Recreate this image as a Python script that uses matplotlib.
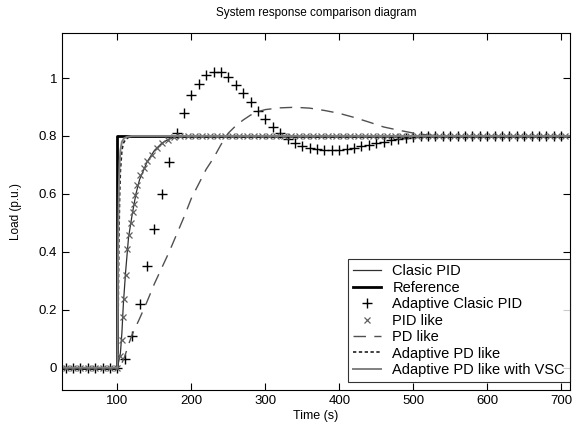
import numpy as np
import matplotlib
matplotlib.use("Agg")
import matplotlib.pyplot as plt

plt.rcParams['font.family'] = ['Liberation Sans', 'DejaVu Sans']

# reference step
ref_t = [25, 100, 100, 712]
ref_y = [0, 0, 0.8, 0.8]

# Adaptive Clasic PID (+ markers, every 10 s)
acp_t = list(range(30, 710, 10))
acp_y = ([0.0] * 8 +
         [0.03, 0.11, 0.22, 0.35, 0.48, 0.60, 0.71, 0.81, 0.88, 0.94, 0.98,
          1.01, 1.02, 1.02, 1.005, 0.975, 0.947, 0.918, 0.886, 0.858, 0.832,
          0.81, 0.79, 0.777, 0.767, 0.76, 0.755, 0.753, 0.752, 0.752, 0.754,
          0.758, 0.764, 0.77, 0.775, 0.78, 0.785, 0.79, 0.793, 0.796, 0.8])
acp_y += [0.8] * (len(acp_t) - len(acp_y))

# PID like (x markers)
pidl_t = [30, 40, 50, 60, 70, 80, 90, 100, 104, 106, 107, 108.5, 111, 113, 115,
          118.5, 120.7, 122, 124, 127, 131, 135.5, 140, 147, 153, 160, 169, 176,
          185, 195]
pidl_y = [0, 0, 0, 0, 0, 0, 0, 0, 0.04, 0.095, 0.175, 0.238, 0.32, 0.41, 0.458,
          0.50, 0.539, 0.566, 0.596, 0.632, 0.664, 0.69, 0.712, 0.735, 0.758,
          0.775, 0.787, 0.795, 0.799, 0.8]
pidl_t += list(range(205, 710, 10))
pidl_y += [0.8] * (len(pidl_t) - len(pidl_y))

# Clasic PID (thin solid)
cpid_t = [25, 100, 104, 106, 108, 111, 115, 120, 125, 130, 140, 150, 160, 170,
          180, 200, 712]
cpid_y = [0, 0, 0.05, 0.12, 0.22, 0.33, 0.45, 0.53, 0.60, 0.65, 0.71, 0.75,
          0.775, 0.79, 0.797, 0.8, 0.8]

# PD like (dashed)
pd_t = [25, 100, 105, 110, 115, 120, 130, 140, 150, 160, 170, 180, 190, 200,
        210, 220, 230, 240, 250, 260, 270, 280, 290, 300, 320, 340, 360, 380,
        400, 420, 440, 460, 480, 500, 520, 540, 712]
pd_y = [0, 0, 0.01, 0.04, 0.08, 0.115, 0.17, 0.228, 0.29, 0.345, 0.40, 0.46,
        0.52, 0.585, 0.635, 0.685, 0.724, 0.77, 0.81, 0.835, 0.855, 0.872,
        0.884, 0.891, 0.897, 0.899, 0.896, 0.888, 0.878, 0.864, 0.848, 0.831,
        0.82, 0.81, 0.803, 0.8, 0.8]

# Adaptive PD like (dotted)
apd_t = [25, 100, 101, 102, 103, 104, 106, 108, 111, 115, 120, 130, 712]
apd_y = [0, 0, 0.2, 0.45, 0.6, 0.68, 0.75, 0.775, 0.788, 0.795, 0.798, 0.8, 0.8]

# Adaptive PD like with VSC (grey solid)
vsc_t = [25, 100, 100.5, 101, 102, 103, 104, 106, 109, 113, 120, 712]
vsc_y = [0, 0, 0.25, 0.45, 0.63, 0.71, 0.75, 0.78, 0.792, 0.797, 0.8, 0.8]

fig = plt.figure(figsize=(5.74, 4.30), dpi=100)
ax = fig.add_axes([0.108, 0.093, 0.885, 0.83])

ax.plot(cpid_t, cpid_y, '-', color='#303030', lw=0.9, label='Clasic PID')
ax.plot(ref_t, ref_y, '-', color='black', lw=2.0, label='Reference')
ax.plot(acp_t, acp_y, '+', color='black', ms=6.5, mew=1.0, label='Adaptive Clasic PID')
ax.plot(pidl_t, pidl_y, 'x', color='#606060', ms=4, mew=0.9, label='PID like')
ax.plot(pd_t, pd_y, color='#505050', lw=1.0, dashes=(9, 6), label='PD like')
ax.plot(apd_t, apd_y, color='#202020', lw=1.2, dashes=(2, 1.5), label='Adaptive PD like')
ax.plot(vsc_t, vsc_y, '-', color='#808080', lw=1.4, label='Adaptive PD like with VSC')

ax.set_xlim(25, 712)
ax.set_ylim(-0.077, 1.155)
ax.set_xticks([100, 200, 300, 400, 500, 600, 700])
ax.set_yticks([0, 0.2, 0.4, 0.6, 0.8, 1])
ax.set_yticklabels(['0', '0.2', '0.4', '0.6', '0.8', '1'])
ax.tick_params(direction='in', top=True, right=True, labelsize=9.5, length=5)

ax.set_title('System response comparison diagram', fontsize=8.5, pad=12)
ax.set_xlabel('Time (s)', fontsize=9, labelpad=2)
ax.set_ylabel('Load (p.u.)', fontsize=8.5, labelpad=12)

leg = ax.legend(loc='lower right', bbox_to_anchor=(1.0, 0.022), fontsize=10.5,
                frameon=True, fancybox=False, edgecolor='black',
                borderaxespad=0, labelspacing=0.17, handlelength=1.9,
                handletextpad=0.8, borderpad=0.35)
leg.get_frame().set_linewidth(0.8)

fig.savefig('out.png', dpi=100)
